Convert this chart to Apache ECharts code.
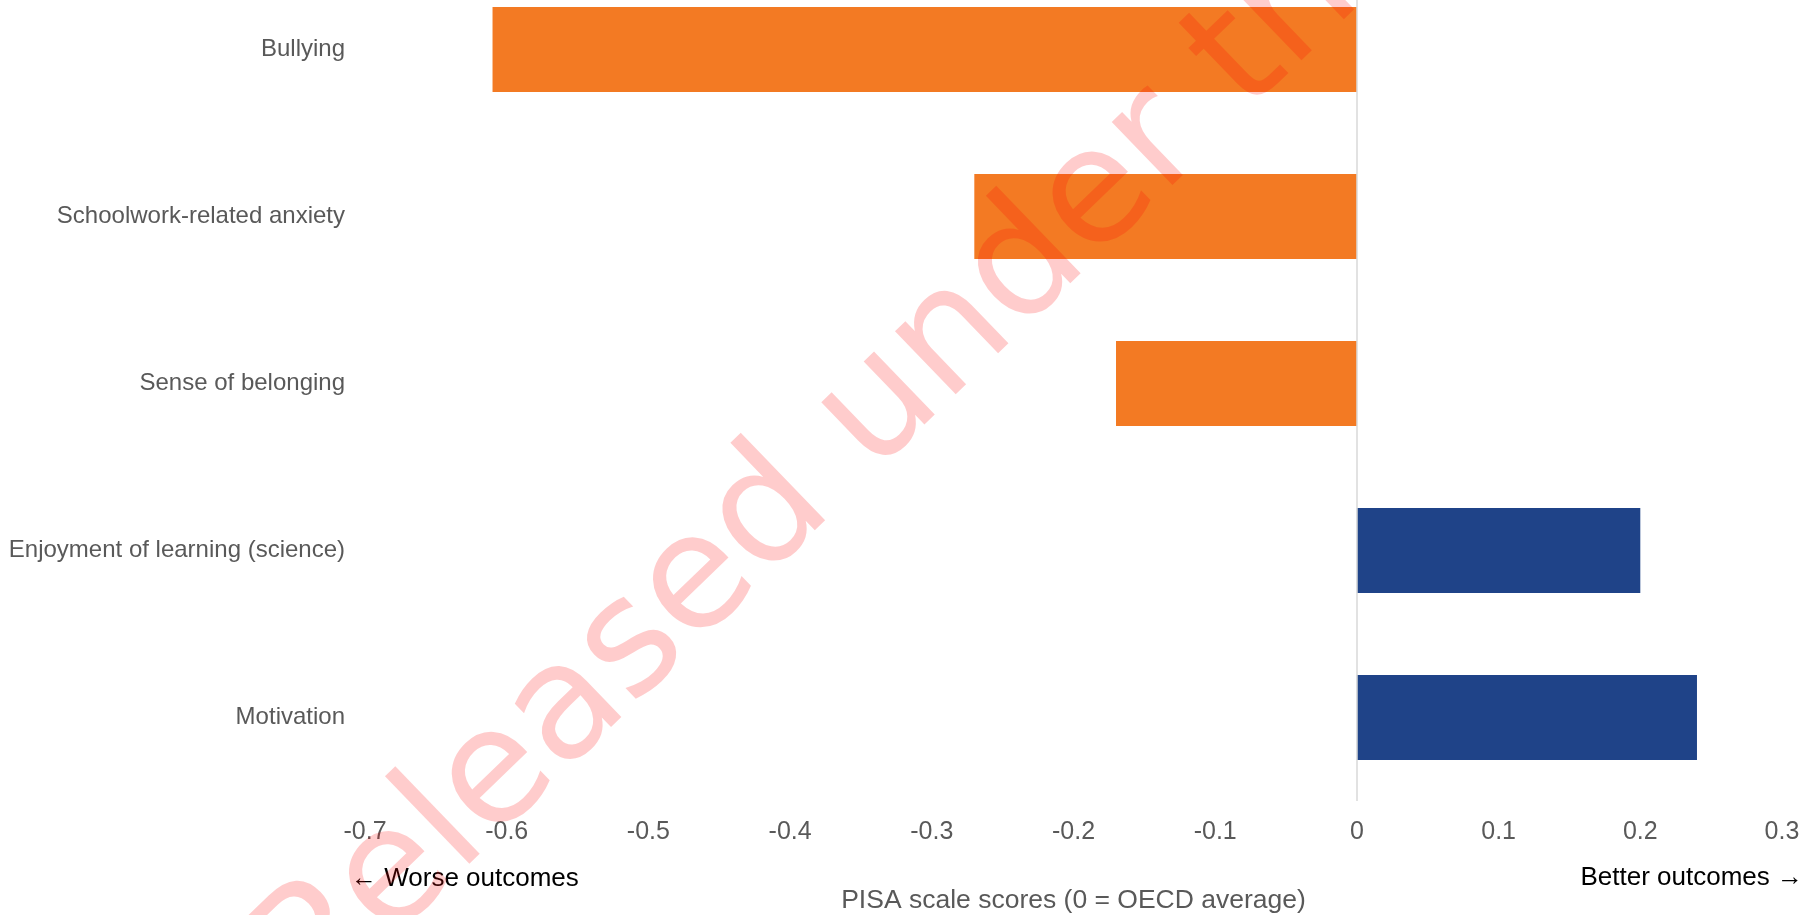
<!DOCTYPE html>
<html>
<head>
<meta charset="utf-8">
<script src="https://cdn.jsdelivr.net/npm/echarts@6/dist/echarts.min.js"></script>
<style>
  html, body { margin: 0; padding: 0; background: #ffffff; }
  #frame { position: relative; width: 1819px; height: 915px; overflow: hidden; }
  /* the plot starts a little above the visible area, so the first band is cut at the top */
  #chart { position: absolute; left: 0; top: -34px; width: 1819px; height: 949px; }
</style>
</head>
<body>
<div id="frame"><div id="chart"></div></div>
<script>
// Categories, top to bottom
const categories = [
  'Bullying',
  'Schoolwork-related anxiety',
  'Sense of belonging',
  'Enjoyment of learning (science)',
  'Motivation'
];
// Difference from the OECD average, in PISA scale-score units
const scores = [-0.61, -0.27, -0.17, 0.20, 0.24];

// Value axis range and step
const tickMin = -0.7;
const tickMax = 0.3;
const tickStep = 0.1;

// Texts
const axisTitle = 'PISA scale scores (0 = OECD average)';
const worseLabel = '\u2190 Worse outcomes';
const betterLabel = 'Better outcomes \u2192';
const stampText = 'Released under the';

const ORANGE = '#F37A23';
const BLUE = '#1F4388';
const GREY_TEXT = '#595959';
const FONT = '"Liberation Sans", Arial, sans-serif';
const SHIFT = 34; // offset of the chart canvas above the page top

const chart = echarts.init(document.getElementById('chart'), null, { renderer: 'canvas' });

chart.setOption({
  animation: false,
  backgroundColor: '#ffffff',
  grid: { left: 365, right: 37, top: 0, bottom: 114, containLabel: false, outerBoundsMode: 'none' },
  xAxis: {
    type: 'value',
    min: tickMin,
    max: tickMax,
    interval: tickStep,
    axisLine: { show: false },
    axisTick: { show: false },
    splitLine: { show: false },
    axisLabel: { color: GREY_TEXT, fontSize: 25, fontFamily: FONT, margin: 19 },
    name: axisTitle,
    nameLocation: 'middle',
    nameGap: 86,
    nameTextStyle: { color: GREY_TEXT, fontSize: 26.5, fontFamily: FONT }
  },
  yAxis: {
    type: 'category',
    data: categories,
    inverse: true,
    axisLine: { show: false },
    axisTick: { show: false },
    splitLine: { show: false },
    axisLabel: { color: GREY_TEXT, fontSize: 24, fontFamily: FONT, margin: 20 }
  },
  series: [{
    type: 'bar',
    data: scores,
    barCategoryGap: '49%',
    itemStyle: {
      color: function (p) { return p.value < 0 ? ORANGE : BLUE; }
    },
    markLine: {
      silent: true,
      symbol: 'none',
      label: { show: false },
      lineStyle: { color: '#d9d9d9', width: 1.5, type: 'solid' },
      data: [{ xAxis: 0 }]
    }
  }],
  graphic: [
    {
      type: 'text',
      x: 351, y: 879 + SHIFT,
      style: { text: worseLabel, font: '26px ' + FONT, fill: '#000000', align: 'left', verticalAlign: 'middle' }
    },
    {
      type: 'text',
      x: 1803, y: 878 + SHIFT,
      style: { text: betterLabel, font: '26px ' + FONT, fill: '#000000', align: 'right', verticalAlign: 'middle' }
    },
    {
      type: 'text',
      x: 284, y: 985 + SHIFT,
      rotation: 44 * Math.PI / 180,
      silent: true,
      z: 100,
      style: { text: stampText, font: '160px "DejaVu Sans", sans-serif', fill: 'rgba(255,0,0,0.2)', align: 'left', verticalAlign: 'middle' }
    }
  ]
});
</script>
</body>
</html>
